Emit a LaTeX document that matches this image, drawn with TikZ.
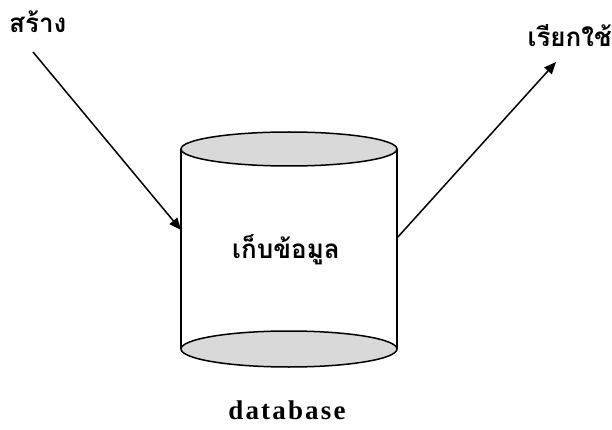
\documentclass[tikz,border=0pt]{standalone}
\usepackage{fontspec}
\setmainfont{Liberation Serif}
\newfontfamily\thaifont[Script=Thai]{Loma}
\usetikzlibrary{arrows.meta}
\begin{document}
\begin{tikzpicture}[x=1pt,y=-1pt,
  outline/.style={line width=1.5pt},
  flow/.style={line width=1.5pt,-{Triangle[length=12pt,width=10pt]}},
  thai/.style={font=\thaifont\fontsize{26}{30}\selectfont\bfseries,inner sep=0pt},
  lid/.style={fill=gray!30,draw=black,line width=1.5pt}]
\useasboundingbox (0,0) rectangle (612,430);
% cylinder body
\draw[outline] (181,149) -- (181,349);
\draw[outline] (397,149) -- (397,349);
\draw[lid] (289,349) ellipse [x radius=108,y radius=18];
\draw[lid] (289,149) ellipse [x radius=108,y radius=17];
\coordinate (inL) at (181,230);
\coordinate (outR) at (397,238);
\node[thai] (store) at (286,250) {เก็บข้อมูล};
\node[font=\fontsize{27}{30}\selectfont\bfseries\addfontfeature{LetterSpace=8},inner sep=0pt] (db) at (287,410) {database};
\node[thai,anchor=west] (create) at (9,22) {สร้าง};
\node[thai,anchor=east] (use) at (612,36) {เรียกใช้};
\coordinate (s1) at (33,52);
\coordinate (t2) at (556,62);
\draw[flow] (s1) -- (inL);
\draw[flow] (outR) -- (t2);
\end{tikzpicture}
\end{document}
